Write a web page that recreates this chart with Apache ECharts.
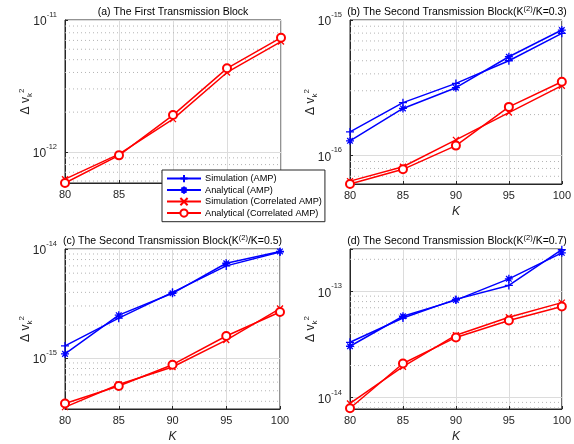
<!DOCTYPE html>
<html><head><meta charset="utf-8">
<script src="https://cdn.jsdelivr.net/npm/echarts@6/dist/echarts.min.js"></script>
<style>html,body{margin:0;padding:0;background:#fff}#c{width:574px;height:444px}</style>
</head><body><div id="c"></div>
<script>
const K = [80, 85, 90, 95, 100];
// (a)
const aSimCorr = [6.2e-13, 9.6e-13, 1.77e-12, 4.0e-12, 6.86e-12];
const aAnaCorr = [5.8e-13, 9.4e-13, 1.9e-12, 4.3e-12, 7.34e-12];
// (b)
const bSimAmp = [1.49e-16, 2.45e-16, 3.4e-16, 5.0e-16, 7.97e-16];
const bAnaAmp = [1.28e-16, 2.22e-16, 3.16e-16, 5.35e-16, 8.43e-16];
const bSimCorr = [6.45e-17, 8.23e-17, 1.3e-16, 2.07e-16, 3.27e-16];
const bAnaCorr = [6.14e-17, 7.88e-17, 1.18e-16, 2.28e-16, 3.5e-16];
// (c)
const cSimAmp = [1.29e-15, 2.32e-15, 4.0e-15, 7.0e-15, 9.4e-15];
const cAnaAmp = [1.09e-15, 2.47e-15, 3.92e-15, 7.4e-15, 9.5e-15];
const cSimCorr = [3.54e-16, 5.71e-16, 8.26e-16, 1.46e-15, 2.84e-15];
const cAnaCorr = [3.82e-16, 5.52e-16, 8.67e-16, 1.59e-15, 2.64e-15];
// (d)
const dSimAmp = [3.31e-14, 5.6e-14, 8.39e-14, 1.135e-13, 2.46e-13];
const dAnaAmp = [3.04e-14, 5.82e-14, 8.26e-14, 1.31e-13, 2.3e-13];
const dSimCorr = [8.8e-15, 1.95e-14, 3.86e-14, 5.69e-14, 7.82e-14];
const dAnaCorr = [7.93e-15, 2.09e-14, 3.68e-14, 5.31e-14, 7.18e-14];

const yRanges = [[5.8e-13, 1e-11], [6.14e-17, 1e-15], [3.4e-16, 1e-14], [7.8e-15, 2.5e-13]];
const titles = [
  '(a) The First Transmission Block',
  '(b) The Second Transmission Block(K{s|(2)}/K=0.3)',
  '(c) The Second Transmission Block(K{s|(2)}/K=0.5)',
  '(d) The Second Transmission Block(K{s|(2)}/K=0.7)'
];
const seriesNames = ['Simulation (AMP)', 'Analytical (AMP)', 'Simulation (Correlated AMP)', 'Analytical (Correlated AMP)'];
const panelData = [
  [null, null, aSimCorr, aAnaCorr],
  [bSimAmp, bAnaAmp, bSimCorr, bAnaCorr],
  [cSimAmp, cAnaAmp, cSimCorr, cAnaCorr],
  [dSimAmp, dAnaAmp, dSimCorr, dAnaCorr]
];

const grids = [
  {left: 65, top: 20, width: 216, height: 163},
  {left: 350, top: 20, width: 214, height: 164},
  {left: 65, top: 249, width: 215, height: 165},
  {left: 350, top: 249, width: 214, height: 164}
];
const TXT = '#262626';
const FONT = 'Liberation Sans, Arial, sans-serif';
const BLUE = '#0000ff', RED = '#ff0000';
const styles = [
  {color: BLUE, symbol: 'path://M0,5L10,5M5,0L5,10', size: 8},
  {color: BLUE, symbol: 'path://M0,5L10,5M5,0L5,10M1.5,1.5L8.5,8.5M1.5,8.5L8.5,1.5', size: 8},
  {color: RED, symbol: 'path://M0,0L10,10M0,10L10,0', size: 6},
  {color: RED, symbol: 'emptyCircle', size: 8}
];

function powLabel(v) {
  const l = Math.log10(v);
  const e = Math.round(l);
  if (Math.abs(l - e) > 0.01) return '';
  return '{b|10}{s|' + e + '}';
}
function minorValues(r) {
  const out = [];
  const lo = Math.floor(Math.log10(r[0])), hi = Math.ceil(Math.log10(r[1]));
  for (let n = lo; n <= hi; n++) {
    for (let k = 2; k <= 9; k++) {
      const v = k * Math.pow(10, n);
      if (v > r[0] * 1.0001 && v < r[1] * 0.9999) out.push(v);
    }
  }
  return out;
}

const option = {
  animation: false,
  backgroundColor: '#fff',
  textStyle: {fontFamily: FONT},
  title: titles.map((t, i) => ({
    text: t,
    left: grids[i].left + grids[i].width / 2,
    top: grids[i].top - 15,
    textAlign: 'center',
    padding: 0,
    textStyle: {fontSize: 10.5, fontWeight: 'normal', color: '#000', fontFamily: FONT, lineHeight: 15,
      rich: {s: {fontSize: 7.5, verticalAlign: 'top', color: '#000', fontFamily: FONT}}}
  })),
  grid: grids.map(g => Object.assign({show: true, borderColor: TXT, borderWidth: 1, backgroundColor: 'transparent'}, g)),
  xAxis: grids.map((g, i) => ({
    gridIndex: i, type: 'value', min: 80, max: 100, interval: 5,
    name: i === 0 ? '' : 'K', nameLocation: 'middle', nameGap: 22,
    nameTextStyle: {fontStyle: 'italic', fontSize: 12, color: TXT, fontFamily: FONT},
    axisLine: {show: true, lineStyle: {color: TXT, width: 1}},
    axisTick: {show: true, inside: true, length: 3, lineStyle: {color: TXT}},
    axisLabel: {color: TXT, fontSize: 11, margin: 6, fontFamily: FONT},
    splitLine: {show: true, lineStyle: {color: '#dcdcdc', width: 1}}
  })),
  yAxis: grids.map((g, i) => ({
    gridIndex: i, type: 'log', logBase: 10, min: yRanges[i][0], max: yRanges[i][1],
    name: '{a|Δ v}{k|k}{t|2}', nameLocation: 'middle', nameGap: 31, nameRotate: 90,
    nameMoveOverlap: false,
    nameTextStyle: {color: TXT, fontFamily: FONT, rich: {
      a: {fontSize: 12, color: TXT, fontFamily: FONT, lineHeight: 16},
      k: {fontSize: 8, color: TXT, fontFamily: FONT, verticalAlign: 'bottom'},
      t: {fontSize: 8, color: TXT, fontFamily: FONT, verticalAlign: 'top'}
    }},
    axisLine: {show: true, lineStyle: {color: TXT, width: 1}},
    axisTick: {show: true, inside: true, length: 3, lineStyle: {color: TXT}},
    axisLabel: {formatter: powLabel, margin: 8, color: TXT, rich: {
      b: {fontSize: 12, color: TXT, fontFamily: FONT, lineHeight: 18, padding: [4, 0, 0, 0]},
      s: {fontSize: 7.5, color: TXT, fontFamily: FONT, verticalAlign: 'top'}
    }},
    splitLine: {show: true, lineStyle: {color: '#dcdcdc', width: 1}}
  })),
  legend: {
    data: seriesNames,
    orient: 'vertical', left: 162, top: 170, z: 20,
    backgroundColor: '#fff', borderColor: TXT, borderWidth: 1,
    padding: [4, 3, 4, 4], itemGap: 2.3, itemWidth: 34, itemHeight: 9,
    textStyle: {fontSize: 9.2, color: '#000', fontFamily: FONT, padding: [0, 0, 0, -1]}
  },
  series: []
};

// minor (dotted) log grid lines, drawn through each panel's own axes
grids.forEach((g, gi) => {
  minorValues(yRanges[gi]).forEach(v => {
    option.series.push({
      type: 'line', xAxisIndex: gi, yAxisIndex: gi, silent: true, z: 1,
      data: [[80, v], [100, v]], symbol: 'none',
      lineStyle: {type: [1, 3], color: '#b4b4b4', width: 1},
      emphasis: {disabled: true}, tooltip: {show: false}
    });
  });
});

panelData.forEach((arrs, gi) => {
  arrs.forEach((arr, si) => {
    if (!arr) return;
    const st = styles[si];
    option.series.push({
      name: seriesNames[si], type: 'line', xAxisIndex: gi, yAxisIndex: gi,
      data: K.map((k, j) => [k, arr[j]]),
      symbol: st.symbol, symbolSize: st.size, showAllSymbol: true, clip: false,
      lineStyle: {color: st.color, width: 1.5},
      itemStyle: {color: st.color, borderColor: st.color, borderWidth: 1.3},
      z: 3
    });
  });
});

const chart = echarts.init(document.getElementById('c'), null, {renderer: 'canvas'});
chart.setOption(option);
</script>
</body></html>
